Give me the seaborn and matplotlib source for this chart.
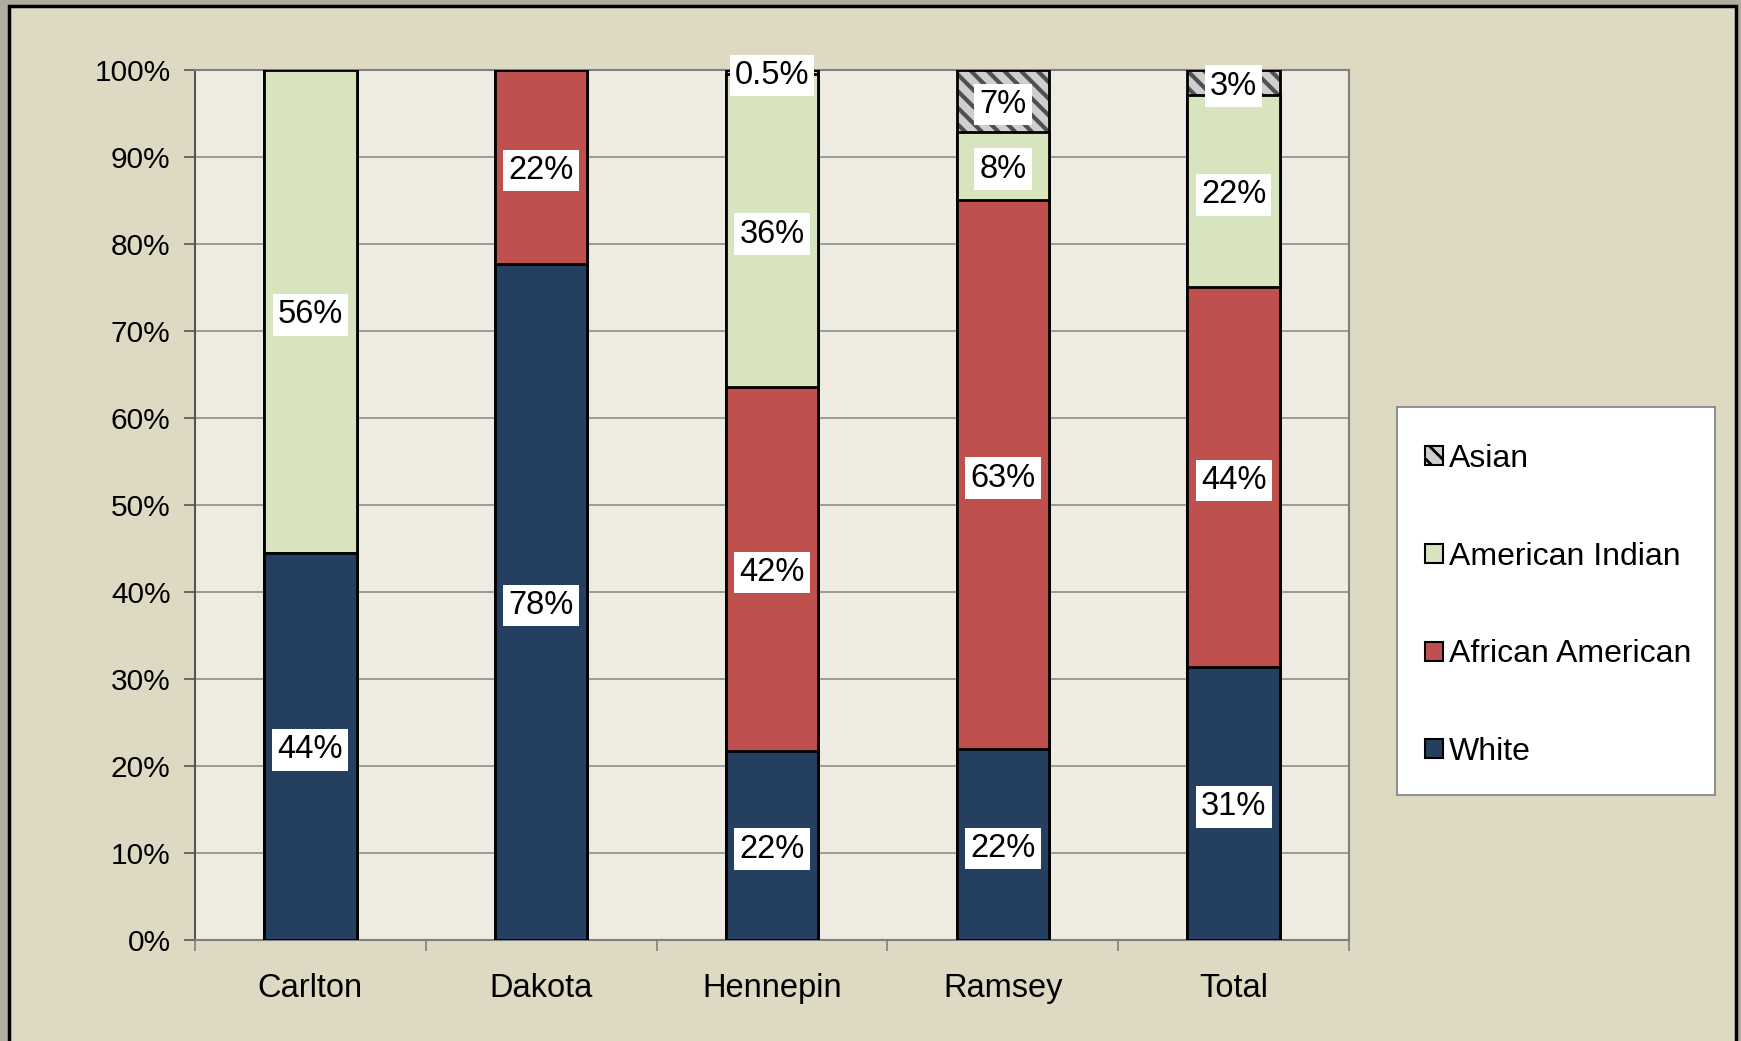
import matplotlib
matplotlib.use("Agg")
import matplotlib.pyplot as plt
import seaborn as sns
import numpy as np
from matplotlib.patches import Patch, Rectangle
from matplotlib.ticker import FixedLocator, FuncFormatter

# ---- data ----
counties = ["Carlton", "Dakota", "Hennepin", "Ramsey", "Total"]
white = [44.5, 77.7, 21.7, 21.9, 31.4]
african_american = [0.0, 22.3, 41.9, 63.2, 43.6]
american_indian = [55.5, 0.0, 35.9, 7.8, 22.1]
asian = [0.0, 0.0, 0.5, 7.1, 2.9]
white_labels = ["44%", "78%", "22%", "22%", "31%"]
aa_labels = ["", "22%", "42%", "63%", "44%"]
ai_labels = ["56%", "", "36%", "8%", "22%"]
asian_labels = ["", "", "0.5%", "7%", "3%"]
series_names = ["Asian", "American Indian", "African American", "White"]
y_ticks = [0, 10, 20, 30, 40, 50, 60, 70, 80, 90, 100]

# ---- style ----
sns.set_style("white")
plt.rcParams["font.family"] = ["Liberation Sans", "DejaVu Sans"]
plt.rcParams["hatch.linewidth"] = 3.0
plt.rcParams["text.color"] = "black"
plt.rcParams["xtick.labelcolor"] = "black"
plt.rcParams["ytick.labelcolor"] = "black"

C_WHITE = "#243F60"
C_AA = "#C0504D"
C_AI = "#D7E4BD"
C_ASIAN = "#CFCFCF"
C_HATCH = "#505050"
FIG_BG = "#DED9C3"
PLOT_BG = "#EEECE1"
OUTER = "#B0AE9E"
FS_LAB = 23.5
FS_X = 23.5
FS_Y = 21.5
FS_LEG = 23

W, H = 1741, 1041
fig = plt.figure(figsize=(W / 100, H / 100), dpi=100)
fig.patch.set_facecolor(OUTER)
fig.patches.append(Rectangle((9 / W, -0.05), (1736 - 9) / W, 1.05 - 6 / H,
                             transform=fig.transFigure, facecolor=FIG_BG,
                             edgecolor="black", linewidth=2.5, zorder=-5))

ax = fig.add_axes([195 / W, 1 - 940 / H, (1349 - 195) / W, (940 - 70) / H])
ax.set_facecolor(PLOT_BG)

w = np.array(white)
aa = np.array(african_american)
ai = np.array(american_indian)
asn = np.array(asian)
cum1 = w
cum2 = w + aa
cum3 = cum2 + ai
cum4 = cum3 + asn

BW = 0.4
# Asian (top) layer with hatch
sns.barplot(x=counties, y=cum4, color=C_ASIAN, saturation=1, width=BW,
            edgecolor=C_HATCH, linewidth=0, hatch="\\\\", ax=ax, zorder=2)
sns.barplot(x=counties, y=cum4, color="black", fill=False, saturation=1, width=BW,
            linewidth=2, ax=ax, zorder=3)
for cum, col in [(cum3, C_AI), (cum2, C_AA), (cum1, C_WHITE)]:
    sns.barplot(x=counties, y=cum, color=col, saturation=1, width=BW,
                edgecolor="black", linewidth=2, ax=ax, zorder=3)

# labels
bbox = dict(boxstyle="square,pad=0.16", facecolor="white", edgecolor="none")
layers = [(np.zeros(5), w, white_labels), (cum1, aa, aa_labels),
          (cum2, ai, ai_labels), (cum3, asn, asian_labels)]
for base, vals, labs in layers:
    for i, (b, v, lab) in enumerate(zip(base, vals, labs)):
        if lab:
            ax.text(i, b + v / 2, lab, ha="center", va="center_baseline",
                    fontsize=FS_LAB, color="black",
                    bbox=bbox, zorder=5, clip_on=False)

ax.set_ylim(0, 100)
ax.set_xlim(-0.5, 4.5)
ax.yaxis.set_major_locator(FixedLocator(y_ticks))
ax.yaxis.set_major_formatter(FuncFormatter(lambda v, p: f"{int(v)}%"))
ax.grid(axis="y", color="#8C8C8C", linewidth=1.2, zorder=1)
ax.set_axisbelow(True)
ax.set_xlabel("")
ax.set_ylabel("")

for side in ["top", "right", "bottom", "left"]:
    ax.spines[side].set_visible(True)
    ax.spines[side].set_color("#7F7F7F")
    ax.spines[side].set_linewidth(1.5)
ax.spines["left"].set_color("#555555")

ax.tick_params(axis="y", which="major", direction="out", length=8, width=1.2,
               color="#555555", labelsize=FS_Y, pad=9.5, left=True,
               labelcolor="black")
ax.tick_params(axis="x", which="major", length=0, labelsize=FS_X, pad=24,
               labelcolor="black")
ax.xaxis.set_minor_locator(FixedLocator(np.arange(-0.5, 5, 1.0)))
ax.tick_params(axis="x", which="minor", direction="out", length=8, width=1.2,
               color="#7F7F7F", bottom=True)

# legend box
lx0, lx1, ly0, ly1 = 1397, 1715, 407, 795
fig.patches.append(Rectangle((lx0 / W, 1 - ly1 / H), (lx1 - lx0) / W, (ly1 - ly0) / H,
                             transform=fig.transFigure, facecolor="white",
                             edgecolor="#7F7F7F", linewidth=1.2, zorder=1))

plt.rcParams["hatch.linewidth"] = 2.0
handles = [
    Patch(facecolor=C_ASIAN, edgecolor="black", hatch="\\\\", linewidth=1.5),
    Patch(facecolor=C_AI, edgecolor="black", linewidth=1.5),
    Patch(facecolor=C_AA, edgecolor="black", linewidth=1.5),
    Patch(facecolor=C_WHITE, edgecolor="black", linewidth=1.5),
]
leg = fig.legend(handles, series_names, loc="upper left",
                 bbox_to_anchor=(1425 / W, 1 - 444 / H),
                 fontsize=FS_LEG, frameon=False,
                 handlelength=0.55, handleheight=0.55, handletextpad=0.2,
                 labelspacing=2.12, borderpad=0, borderaxespad=0)
leg.set_zorder(2)
for t in leg.get_texts():
    t.set_color("black")

fig.savefig("out.png", dpi=100, facecolor=fig.get_facecolor())
